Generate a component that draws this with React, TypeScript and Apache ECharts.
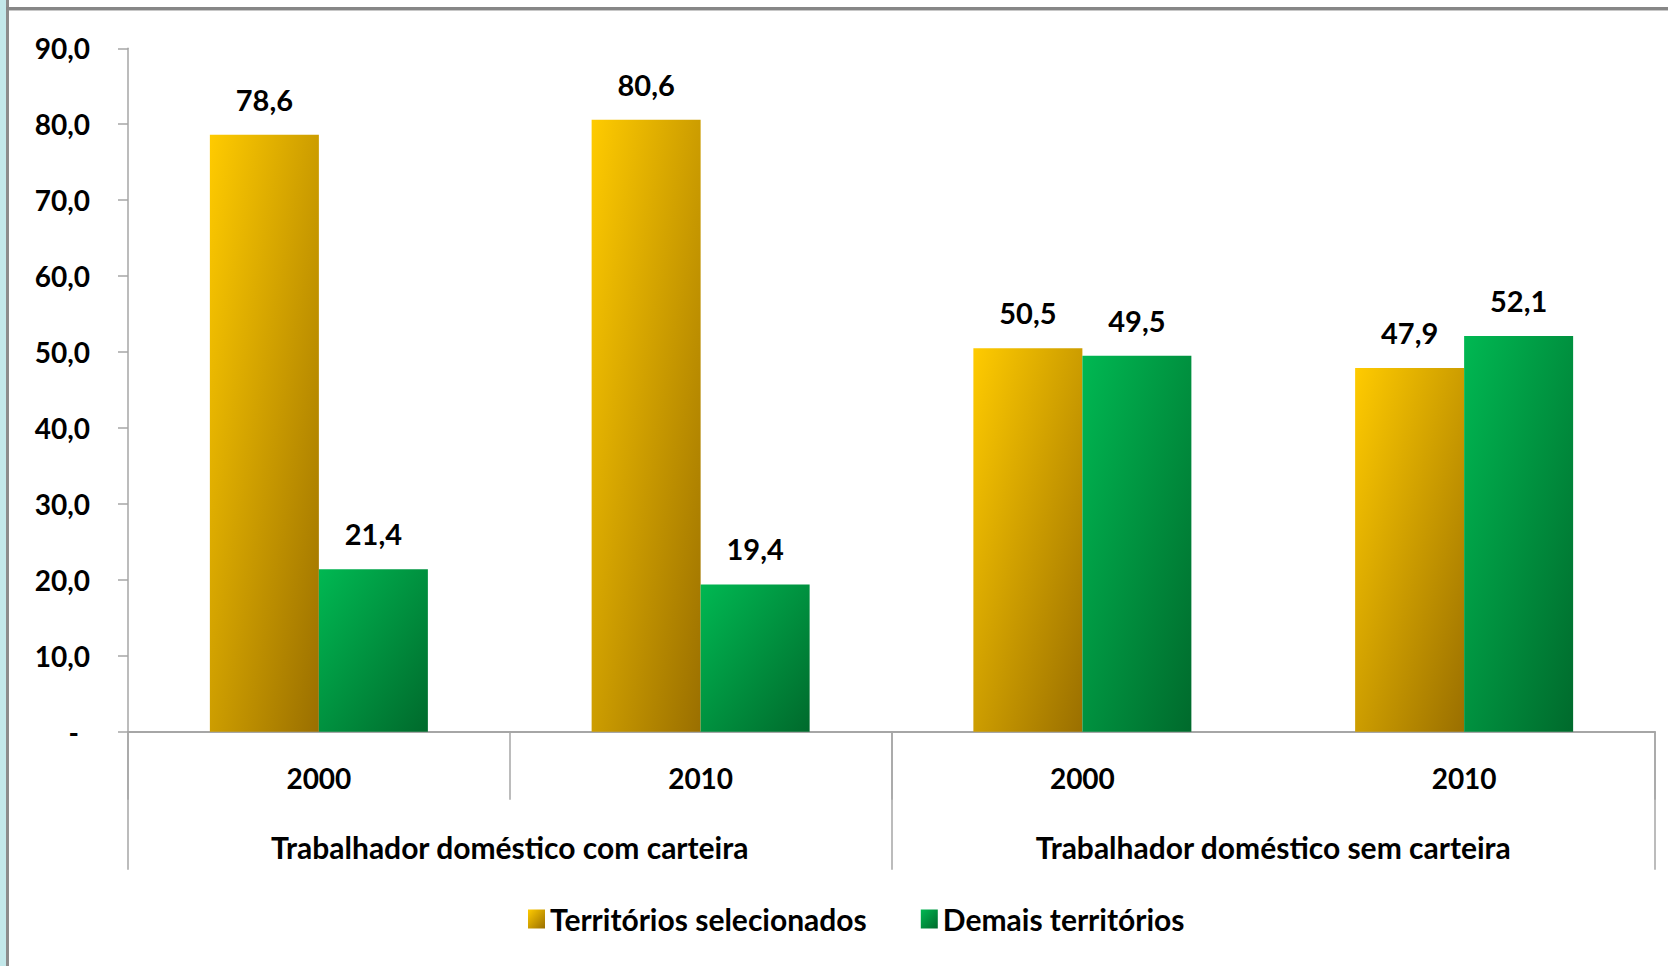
import React, { useEffect, useRef } from "react";
import * as echarts from "echarts";

const yearLabels = ["2000", "2010", "2000", "2010"];
const groupLabels = [
  "Trabalhador doméstico com carteira",
  "Trabalhador doméstico sem carteira",
];
const seriesNames = ["Territórios selecionados", "Demais territórios"];
const territoriosSelecionados = [78.6, 80.6, 50.5, 47.9];
const demaisTerritorios = [21.4, 19.4, 49.5, 52.1];
const yMin = 0;
const yMax = 90;
const yInterval = 10;

const FONT = "Lato";
const AXIS_GRAY = "#A6A6A6";

const fmt = (v: number) => v.toFixed(1).replace(".", ",");

export default function App() {
  const ref = useRef<HTMLDivElement>(null);

  useEffect(() => {
    document.body.style.margin = "0";
    if (!ref.current) return;
    const chart = echarts.init(ref.current, undefined, { renderer: "svg" });

    const yellow = new echarts.graphic.LinearGradient(0, 0, 1, 1, [
      { offset: 0, color: "#FFCB00" },
      { offset: 1, color: "#9A6F00" },
    ]);
    const green = new echarts.graphic.LinearGradient(0, 0, 1, 1, [
      { offset: 0, color: "#00B852" },
      { offset: 1, color: "#006A2C" },
    ]);

    const labelStyle = {
      show: true,
      position: "top" as const,
      distance: 21,
      fontFamily: FONT,
      fontWeight: "bold" as const,
      fontSize: 29,
      color: "#000",
      formatter: (p: any) => fmt(p.value),
    };

    chart.setOption({
      animation: false,
      backgroundColor: "#fff",
      textStyle: { fontFamily: FONT },
      grid: { left: 128, right: 13, top: 48.3, bottom: 234.3, containLabel: false },
      legend: {
        left: 523,
        top: 899,
        itemWidth: 17,
        itemHeight: 19,
        itemGap: 54,
        icon: "rect",
        textStyle: {
          fontFamily: FONT,
          fontWeight: "bold",
          fontSize: 30,
          color: "#000",
        },
        data: seriesNames,
      },
      xAxis: [
        {
          type: "category",
          data: yearLabels.map((_, i) => String(i)),
          position: "bottom",
          axisLine: { show: true, lineStyle: { color: AXIS_GRAY, width: 2 } },
          axisTick: {
            show: true,
            length: 68,
            interval: (index: number) => index !== 3,
            lineStyle: { color: AXIS_GRAY, width: 1.5 },
          },
          axisLabel: {
            interval: 0,
            margin: 32,
            fontFamily: FONT,
            fontWeight: "bold",
            fontSize: 28,
            color: "#000",
            formatter: (_v: string, i: number) => yearLabels[i],
          },
          splitLine: { show: false },
        },
        {
          type: "category",
          data: groupLabels,
          position: "bottom",
          axisLine: { show: false },
          axisTick: {
            show: true,
            length: 138,
            interval: 0,
            lineStyle: { color: AXIS_GRAY, width: 1.5 },
          },
          axisLabel: {
            interval: 0,
            margin: 100,
            fontFamily: FONT,
            fontWeight: "bold",
            fontSize: 30,
            color: "#000",
          },
          splitLine: { show: false },
        },
      ],
      yAxis: {
        type: "value",
        min: yMin,
        max: yMax,
        interval: yInterval,
        axisLine: { show: true, lineStyle: { color: AXIS_GRAY, width: 1.5 } },
        axisTick: { show: true, length: 10, lineStyle: { color: AXIS_GRAY, width: 1.5 } },
        axisLabel: {
          margin: 38,
          fontFamily: FONT,
          fontWeight: "bold",
          fontSize: 28,
          color: "#000",
          formatter: (v: number) => (v === 0 ? "{d|-}" : fmt(v)),
          rich: {
            d: {
              fontFamily: FONT,
              fontWeight: "bold",
              fontSize: 28,
              color: "#000",
              padding: [0, 11, 0, 0],
            },
          },
        },
        splitLine: { show: false },
      },
      series: [
        {
          name: seriesNames[0],
          type: "bar",
          xAxisIndex: 0,
          barWidth: 109,
          barGap: "0%",
          itemStyle: { color: yellow },
          label: labelStyle,
          data: territoriosSelecionados,
        },
        {
          name: seriesNames[1],
          type: "bar",
          xAxisIndex: 0,
          barWidth: 109,
          barGap: "0%",
          itemStyle: { color: green },
          label: labelStyle,
          data: demaisTerritorios,
        },
      ],
      graphic: [
        { type: "rect", left: 0, top: 0, shape: { width: 6, height: 966 }, style: { fill: "#C3E8EA" }, silent: true },
        { type: "rect", left: 6, top: 0, shape: { width: 3, height: 966 }, style: { fill: "#8C8C8C" }, silent: true },
        { type: "rect", left: 6, top: 7, shape: { width: 1662, height: 3 }, style: { fill: "#878787" }, silent: true },
        { type: "rect", left: 9, top: 10, shape: { width: 1659, height: 1 }, style: { fill: "#C8C8C8" }, silent: true },
      ],
    });

    return () => chart.dispose();
  }, []);

  return (
    <div
      ref={ref}
      style={{ position: "absolute", left: 0, top: 0, width: 1668, height: 966 }}
    />
  );
}
